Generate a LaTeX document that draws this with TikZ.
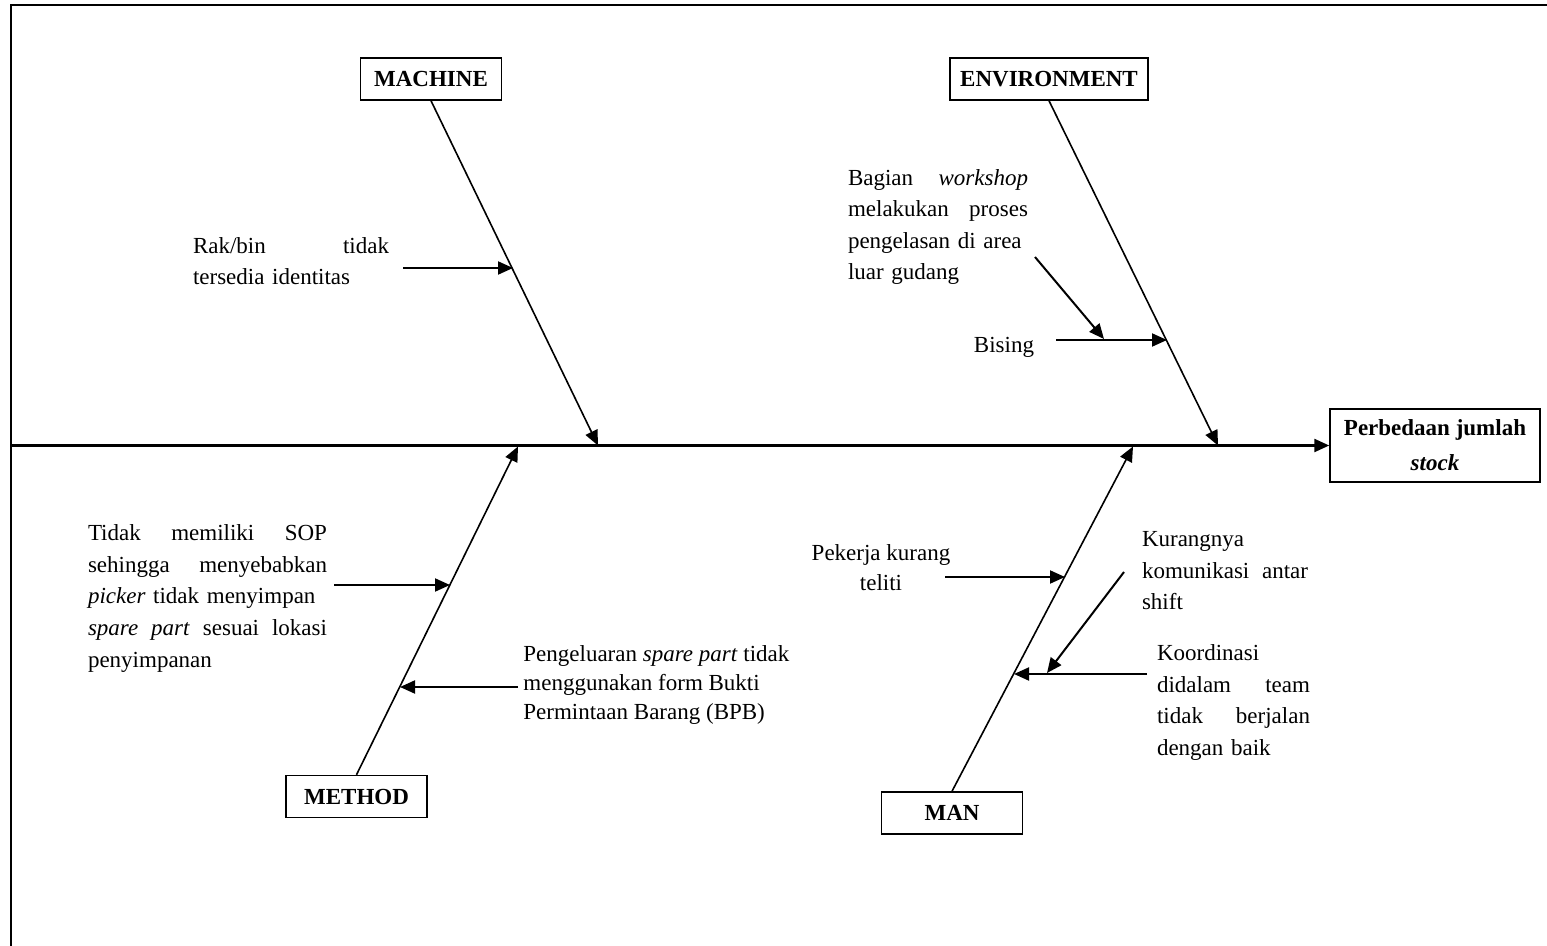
\documentclass[tikz,border=0pt]{standalone}
\usepackage{fontspec}
\setmainfont{Liberation Serif}
\usetikzlibrary{arrows.meta}
\tikzset{catbox/.style={draw, line width=0.75pt, minimum height=21pt, minimum width=70.5pt, inner sep=0pt, font=\fontsize{11.5}{14}\selectfont\bfseries}}
\tikzset{cause/.style={inner sep=0pt, font=\fontsize{11.5}{15.75}\selectfont}}
\tikzset{bone/.style={line width=0.8pt, -{Triangle[length=7.5pt,width=6.5pt]}}}
\tikzset{arr/.style={line width=1pt, -{Triangle[length=7.5pt,width=6.5pt]}}}

\begin{document}
\begin{tikzpicture}[x=0.5pt, y=-0.5pt]
\useasboundingbox (0,0) rectangle (1547,946);
\draw [line width=1pt] (11,946) -- (11,5) -- (1547,5);

% categories and effect
\node [catbox] (machine) at (431,79) {MACHINE};
\node [catbox, minimum width=99pt] (environment) at (1049,79) {ENVIRONMENT};
\node [catbox] (method) at (356.5,796.5) {METHOD};
\node [catbox] (man) at (952,813) {MAN};
\node [catbox, minimum width=105pt, minimum height=36.5pt, align=center, font=\fontsize{11.5}{17.5}\selectfont\bfseries] (effect) at (1435,445.5) {Perbedaan jumlah\\\textit{stock}};

% spine
\coordinate (tail) at (11,445.5);
\draw [arr, line width=1.2pt] (tail) -- (effect.west);

% bones
\coordinate (mtip) at (598,445.5);
\coordinate (etip) at (1218,445.5);
\coordinate (dtip) at (518,446.5);
\coordinate (ntip) at (1133,446.5);
\draw [bone] (machine.south) -- (mtip);
\draw [bone] (environment.south) -- (etip);
\draw [bone] (method.north) -- (dtip);
\draw [bone] (man.north) -- (ntip);

% causes
\node [cause, text width=98pt, align=left] (rak) at (291,261) {Rak/bin\hfill tidak\\tersedia identitas};
\node [cause, text width=90pt, align=left] (bagian) at (938,227) {Bagian\hfill\textit{workshop}\\melakukan\hfill proses\\pengelasan di area\\luar gudang};
\node [cause] (bising) at (1004,347) {Bising};
\node [cause, text width=119.5pt, align=left] (sop) at (207.5,598.5) {Tidak\hfill memiliki\hfill SOP\\sehingga\hfill menyebabkan\\\textit{picker} tidak menyimpan\\\textit{spare}\hfill\textit{part}\hfill sesuai\hfill lokasi\\penyimpanan};
\node [cause, anchor=west, align=left, font=\fontsize{11.5}{14.25}\selectfont] (bpb) at (523,685) {Pengeluaran \textit{spare part} tidak\\menggunakan form Bukti\\Permintaan Barang (BPB)};
\node [cause, align=center, font=\fontsize{11.5}{15}\selectfont] (pekerja) at (881,568) {Pekerja kurang\\teliti};
\node [cause, text width=83pt, align=left] (komunikasi) at (1225,571) {Kurangnya\\komunikasi\hfill antar\\shift};
\node [cause, text width=76.5pt, align=left] (koordinasi) at (1233.5,702.5) {Koordinasi\\didalam\hfill team\\tidak\hfill berjalan\\dengan baik};

% cause arrows
\coordinate (rak-a) at (403,268);
\coordinate (rak-b) at (513,268);
\draw [arr] (rak-a) -- (rak-b);
\coordinate (bis-a) at (1056,340);
\coordinate (bis-b) at (1167,340);
\draw [arr] (bis-a) -- (bis-b);
\coordinate (bag-a) at (1035,257);
\coordinate (bag-b) at (1104,339);
\draw [arr] (bag-a) -- (bag-b);
\coordinate (sop-a) at (334,585);
\coordinate (sop-b) at (450,585);
\draw [arr] (sop-a) -- (sop-b);
\coordinate (bpb-a) at (518,687);
\coordinate (bpb-b) at (400,687);
\draw [arr] (bpb-a) -- (bpb-b);
\coordinate (pek-a) at (945,577);
\coordinate (pek-b) at (1065,577);
\draw [arr] (pek-a) -- (pek-b);
\coordinate (kom-a) at (1124,572);
\coordinate (kom-b) at (1047,673);
\draw [arr] (kom-a) -- (kom-b);
\coordinate (koo-a) at (1147,674);
\coordinate (koo-b) at (1014,674);
\draw [arr] (koo-a) -- (koo-b);
\end{tikzpicture}
\end{document}
